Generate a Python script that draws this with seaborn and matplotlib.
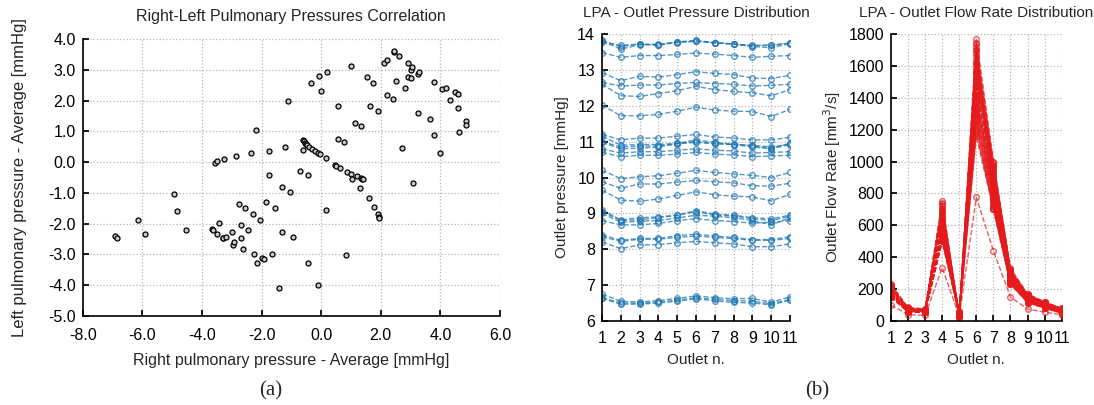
import numpy as np
import pandas as pd
import seaborn as sns
import matplotlib
matplotlib.use("Agg")
import matplotlib.pyplot as plt
from matplotlib.ticker import FormatStrFormatter

# (a) right vs left pulmonary pressure (averages)
right_avg = [
    -6.9, -6.85, -6.15, -5.9, -4.95, -4.85, -4.55, -3.65, -3.62, -3.5,
    -3.42, -3.3, -3.28, -3.2, -3.0, -2.95, -2.92, -2.75, -2.7, -2.7,
    -2.62, -2.57, -2.45, -2.3, -2.25, -2.15, -2.05, -2.0, -1.92, -1.85,
    -1.65, -1.55, -1.3, -1.3, -1.4, -1.05, -0.95, -0.45, -0.1, 0.17,
    0.82, -3.57, -3.5, -3.25, -2.85, -2.35, -2.2, -1.75, -1.75, -1.2,
    -1.1, -0.7, -0.45, -0.6, -0.58, -0.55, -0.52, -0.48, -0.4, -0.3,
    -0.2, -0.12, -0.05, 0.15, -0.6, 0.45, 0.5, 0.62, 0.88, 1.0,
    1.05, 1.2, 1.35, 1.38, 1.4, 1.3, 1.6, 1.77, 1.9, 1.93,
    1.95, 0.57, 0.78, 1.15, 1.35, 0.55, 1.65, 1.9, -0.35, -0.08,
    0.0, 0.18, 1.0, 1.55, 1.75, 2.1, 2.2, 2.45, 2.45, 2.62,
    2.2, 2.4, 2.5, 2.8, 2.9, 3.02, 2.92, 3.03, 3.05, 3.25,
    3.28, 3.25, 2.7, 3.08, 3.65, 3.78, 3.8, 4.0, 4.05, 4.2,
    4.33, 4.5, 4.6, 4.58, 4.62, 4.85, 4.85,
]
left_avg = [
    -2.4, -2.48, -1.87, -2.33, -1.02, -1.6, -2.2, -2.18, -2.2, -2.33,
    -1.98, -2.48, -2.47, -2.42, -2.28, -2.68, -2.6, -1.35, -2.03, -2.47,
    -2.83, -1.5, -2.2, -1.7, -3.0, -3.27, -1.87, -3.13, -3.15, -1.28,
    -2.98, -1.48, -0.82, -2.28, -4.1, -0.97, -2.42, -3.27, -4.0, -1.57,
    -3.02, -0.02, 0.05, 0.1, 0.2, 0.3, 1.05, 0.38, -0.4, 0.5,
    1.98, -0.28, -0.43, 0.73, 0.68, 0.62, 0.58, 0.55, 0.5, 0.43,
    0.38, 0.3, 0.26, 0.14, 0.4, -0.1, -0.12, -0.2, -0.32, -0.38,
    -0.55, -0.45, -0.52, -0.55, -0.53, -0.83, -1.17, -1.45, -1.68, -1.78,
    -1.83, 0.76, 0.66, 1.29, 1.19, 1.83, 1.82, 1.67, 2.59, 2.8,
    2.31, 2.93, 3.12, 2.76, 2.58, 3.23, 3.33, 3.6, 3.63, 3.45,
    2.2, 2.07, 2.63, 2.41, 2.78, 2.74, 3.22, 3.0, 3.1, 2.88,
    2.95, 1.6, 0.46, -0.68, 1.4, 2.62, 0.87, 0.3, 2.37, 2.42,
    2.04, 2.27, 2.22, 1.78, 0.98, 1.35, 1.22,
]

outlets = list(range(1, 12))

# (b) LPA outlet pressure [mmHg], one list per case
pressure_cases = [
    [13.82, 13.65, 13.72, 13.70, 13.78, 13.82, 13.76, 13.72, 13.65, 13.62, 13.73],
    [13.80, 13.58, 13.70, 13.72, 13.76, 13.80, 13.75, 13.72, 13.67, 13.68, 13.75],
    [13.78, 13.68, 13.72, 13.68, 13.78, 13.80, 13.76, 13.72, 13.68, 13.70, 13.74],
    [13.48, 13.35, 13.40, 13.40, 13.43, 13.47, 13.44, 13.40, 13.35, 13.38, 13.40],
    [12.92, 12.70, 12.82, 12.80, 12.87, 12.95, 12.90, 12.87, 12.77, 12.76, 12.85],
    [12.65, 12.55, 12.58, 12.58, 12.62, 12.65, 12.62, 12.60, 12.55, 12.57, 12.60],
    [12.60, 12.28, 12.26, 12.34, 12.42, 12.54, 12.45, 12.40, 12.36, 12.28, 12.45],
    [12.02, 11.72, 11.72, 11.76, 11.85, 11.96, 11.88, 11.85, 11.84, 11.70, 11.90],
    [11.20, 11.05, 11.10, 11.10, 11.15, 11.20, 11.13, 11.10, 11.05, 11.05, 11.12],
    [11.15, 10.90, 10.92, 10.92, 10.95, 11.05, 10.98, 10.93, 10.88, 10.82, 10.95],
    [11.00, 10.85, 10.88, 10.88, 10.95, 11.00, 10.95, 10.92, 10.90, 10.85, 10.93],
    [10.98, 10.80, 10.82, 10.85, 10.94, 10.98, 10.94, 10.92, 10.85, 10.80, 10.92],
    [10.80, 10.68, 10.72, 10.72, 10.76, 10.80, 10.76, 10.74, 10.68, 10.70, 10.72],
    [10.70, 10.58, 10.62, 10.62, 10.65, 10.70, 10.65, 10.63, 10.58, 10.60, 10.62],
    [10.20, 9.97, 10.02, 10.05, 10.12, 10.20, 10.14, 10.10, 10.06, 10.00, 10.14],
    [9.88, 9.70, 9.82, 9.82, 9.87, 9.92, 9.88, 9.85, 9.77, 9.76, 9.84],
    [9.65, 9.37, 9.34, 9.40, 9.50, 9.60, 9.52, 9.48, 9.46, 9.35, 9.53],
    [9.10, 8.82, 8.88, 8.90, 8.95, 9.08, 8.98, 8.95, 8.88, 8.85, 8.95],
    [9.05, 8.80, 8.82, 8.88, 8.95, 9.05, 8.95, 8.93, 8.85, 8.80, 8.92],
    [9.00, 8.75, 8.78, 8.80, 8.87, 8.95, 8.92, 8.88, 8.80, 8.68, 8.88],
    [8.80, 8.68, 8.68, 8.72, 8.80, 8.85, 8.80, 8.77, 8.73, 8.75, 8.80],
    [8.40, 8.25, 8.30, 8.30, 8.38, 8.42, 8.37, 8.33, 8.27, 8.27, 8.35],
    [8.35, 8.22, 8.28, 8.28, 8.33, 8.37, 8.33, 8.30, 8.25, 8.25, 8.30],
    [8.20, 8.02, 8.12, 8.13, 8.18, 8.22, 8.18, 8.15, 8.07, 8.07, 8.15],
    [6.75, 6.55, 6.53, 6.57, 6.63, 6.70, 6.65, 6.62, 6.63, 6.52, 6.67],
    [6.63, 6.47, 6.47, 6.50, 6.55, 6.62, 6.56, 6.52, 6.50, 6.45, 6.58],
    [6.65, 6.50, 6.50, 6.53, 6.58, 6.65, 6.60, 6.57, 6.55, 6.48, 6.60],
]

# (b) LPA outlet flow rate [mm^3/s], one list per case
flow_cases = [
    [230, 85, 75, 750, 25, 1770, 1000, 330, 170, 120, 80],
    [226, 83, 74, 735, 28, 1745, 990, 326, 168, 119, 79],
    [220, 80, 70, 720, 30, 1720, 980, 320, 165, 118, 78],
    [215, 79, 69, 705, 33, 1700, 970, 315, 162, 116, 76],
    [210, 78, 68, 690, 35, 1680, 960, 310, 160, 115, 75],
    [207, 76, 69, 675, 38, 1660, 950, 305, 158, 112, 74],
    [205, 75, 70, 660, 40, 1640, 940, 300, 155, 110, 72],
    [202, 74, 67, 650, 42, 1620, 930, 298, 152, 109, 71],
    [200, 72, 65, 640, 45, 1600, 920, 295, 150, 108, 70],
    [197, 71, 66, 630, 48, 1580, 910, 292, 149, 106, 69],
    [195, 70, 68, 620, 50, 1560, 900, 290, 148, 105, 68],
    [192, 71, 67, 610, 32, 1540, 890, 288, 146, 104, 67],
    [190, 72, 66, 600, 30, 1520, 880, 285, 145, 102, 66],
    [187, 70, 65, 595, 33, 1500, 870, 282, 142, 101, 66],
    [185, 68, 64, 590, 35, 1480, 860, 280, 140, 100, 65],
    [182, 69, 63, 585, 38, 1465, 855, 278, 139, 99, 64],
    [180, 70, 62, 580, 40, 1450, 850, 275, 138, 98, 64],
    [179, 68, 64, 575, 48, 1435, 840, 272, 136, 97, 63],
    [178, 66, 65, 570, 55, 1420, 830, 270, 135, 96, 62],
    [176, 65, 62, 565, 40, 1405, 820, 268, 134, 95, 61],
    [175, 65, 60, 560, 30, 1390, 810, 265, 132, 95, 60],
    [172, 64, 61, 555, 38, 1375, 805, 262, 131, 93, 59],
    [170, 64, 62, 550, 45, 1360, 800, 260, 130, 92, 58],
    [167, 63, 60, 545, 40, 1345, 790, 258, 129, 91, 58],
    [165, 62, 58, 540, 35, 1330, 780, 255, 128, 90, 57],
    [162, 61, 59, 535, 42, 1315, 770, 252, 126, 89, 56],
    [160, 60, 60, 530, 50, 1300, 760, 250, 125, 88, 55],
    [159, 61, 58, 525, 45, 1285, 750, 248, 124, 87, 55],
    [158, 62, 56, 520, 40, 1270, 740, 245, 122, 86, 54],
    [156, 60, 57, 515, 50, 1255, 730, 242, 121, 85, 53],
    [155, 58, 58, 510, 60, 1240, 720, 240, 120, 85, 52],
    [153, 59, 56, 508, 45, 1220, 712, 238, 119, 83, 51],
    [152, 60, 55, 505, 30, 1200, 705, 235, 118, 82, 50],
    [151, 58, 54, 502, 38, 1180, 702, 232, 116, 81, 50],
    [150, 56, 54, 500, 45, 1160, 700, 230, 115, 80, 50],
    [218, 82, 72, 610, 38, 1500, 995, 318, 160, 114, 75],
    [212, 80, 71, 630, 34, 1560, 975, 312, 158, 112, 74],
    [188, 74, 66, 680, 28, 1620, 870, 300, 150, 106, 70],
    [168, 66, 60, 700, 36, 1700, 780, 262, 132, 94, 60],
    [162, 64, 58, 740, 30, 1740, 760, 255, 128, 90, 58],
    [100, 40, 35, 335, 30, 775, 440, 150, 75, 55, 40],
]


def to_long(cases, name):
    rows = []
    for i, vals in enumerate(cases):
        for o, v in zip(outlets, vals):
            rows.append({"case": i, "outlet": o, name: v})
    return pd.DataFrame(rows)


sns.set_theme(style="whitegrid")
plt.rcParams["font.family"] = ["Liberation Sans", "DejaVu Sans"]
plt.rcParams.update({
    "grid.color": "#b5b5b5",
    "grid.linestyle": ":",
    "grid.linewidth": 0.9,
    "axes.edgecolor": "black",
    "xtick.direction": "in",
    "ytick.direction": "in",
    "xtick.bottom": True,
    "ytick.left": True,
    "xtick.major.size": 4,
    "ytick.major.size": 4,
    "xtick.color": "black",
    "ytick.color": "black",
})

fig = plt.figure(figsize=(10.94, 4.05), dpi=100)
ax1 = fig.add_axes([0.0756, 0.220, 0.3814, 0.683])
ax2 = fig.add_axes([0.5503, 0.2074, 0.1718, 0.7086])
ax3 = fig.add_axes([0.8144, 0.2074, 0.1561, 0.7086])

# scatter
scat = pd.DataFrame({"right": right_avg, "left": left_avg})
sns.scatterplot(data=scat, x="right", y="left", ax=ax1, marker="o", s=13,
                facecolor="#c8c8c8", edgecolor="black", linewidth=0.9)
ax1.set_xlim(-8, 6)
ax1.set_ylim(-5, 4)
ax1.set_xticks(np.arange(-8, 7, 2))
ax1.set_yticks(np.arange(-5, 5, 1))
ax1.xaxis.set_major_formatter(FormatStrFormatter("%.1f"))
ax1.yaxis.set_major_formatter(FormatStrFormatter("%.1f"))
ax1.set_xlabel("Right pulmonary pressure - Average [mmHg]", fontsize=11.5, labelpad=7)
ax1.set_ylabel("Left pulmonary pressure - Average [mmHg]", fontsize=12, labelpad=15)
ax1.set_title("Right-Left Pulmonary Pressures Correlation", fontsize=11.5, pad=13)

# pressure lines
p_df = to_long(pressure_cases, "pressure")
sns.lineplot(data=p_df, x="outlet", y="pressure", units="case", estimator=None,
             ax=ax2, color="#1f77b4", linestyle="--", linewidth=1.0, alpha=0.75,
             marker="o", markersize=4, markerfacecolor="none",
             markeredgecolor="#1f77b4", markeredgewidth=1.0)
ax2.set_xlim(1, 11)
ax2.set_ylim(6, 14)
ax2.set_xticks(outlets)
ax2.set_yticks(range(6, 15))
ax2.set_xlabel("Outlet n.", fontsize=11, labelpad=5)
ax2.set_ylabel("Outlet pressure [mmHg]", fontsize=11, labelpad=6)
ax2.set_title("LPA - Outlet Pressure Distribution", fontsize=11, pad=12)

# flow lines
f_df = to_long(flow_cases, "flow")
sns.lineplot(data=f_df, x="outlet", y="flow", units="case", estimator=None,
             ax=ax3, color="#e41a1c", linestyle="--", linewidth=1.0, alpha=0.7,
             marker="o", markersize=4, markerfacecolor="none",
             markeredgecolor="#e41a1c", markeredgewidth=1.0)
ax3.set_xlim(1, 11)
ax3.set_ylim(0, 1800)
ax3.set_xticks(outlets)
ax3.set_yticks(range(0, 1801, 200))
ax3.set_xlabel("Outlet n.", fontsize=11, labelpad=5)
ax3.set_ylabel("Outlet Flow Rate [mm$^3$/s]", fontsize=11, labelpad=4)
ax3.set_title("LPA - Outlet Flow Rate Distribution", fontsize=11, pad=12)

for ax in (ax1, ax2, ax3):
    ax.tick_params(labelsize=11.5, pad=5)
    ax.spines["top"].set_visible(False)
    ax.spines["right"].set_visible(False)
    ax.spines["left"].set_linewidth(1.2)
    ax.spines["bottom"].set_linewidth(1.2)
    ax.grid(True)

ax1.tick_params(axis="x", pad=9)
ax2.tick_params(axis="x", pad=7)
ax3.tick_params(axis="x", pad=7)

fig.text(0.247, 0.035, "(a)", ha="center", va="center",
         family="Liberation Serif", fontsize=15)
fig.text(0.747, 0.035, "(b)", ha="center", va="center",
         family="Liberation Serif", fontsize=15)

fig.savefig("out.png", dpi=100)
